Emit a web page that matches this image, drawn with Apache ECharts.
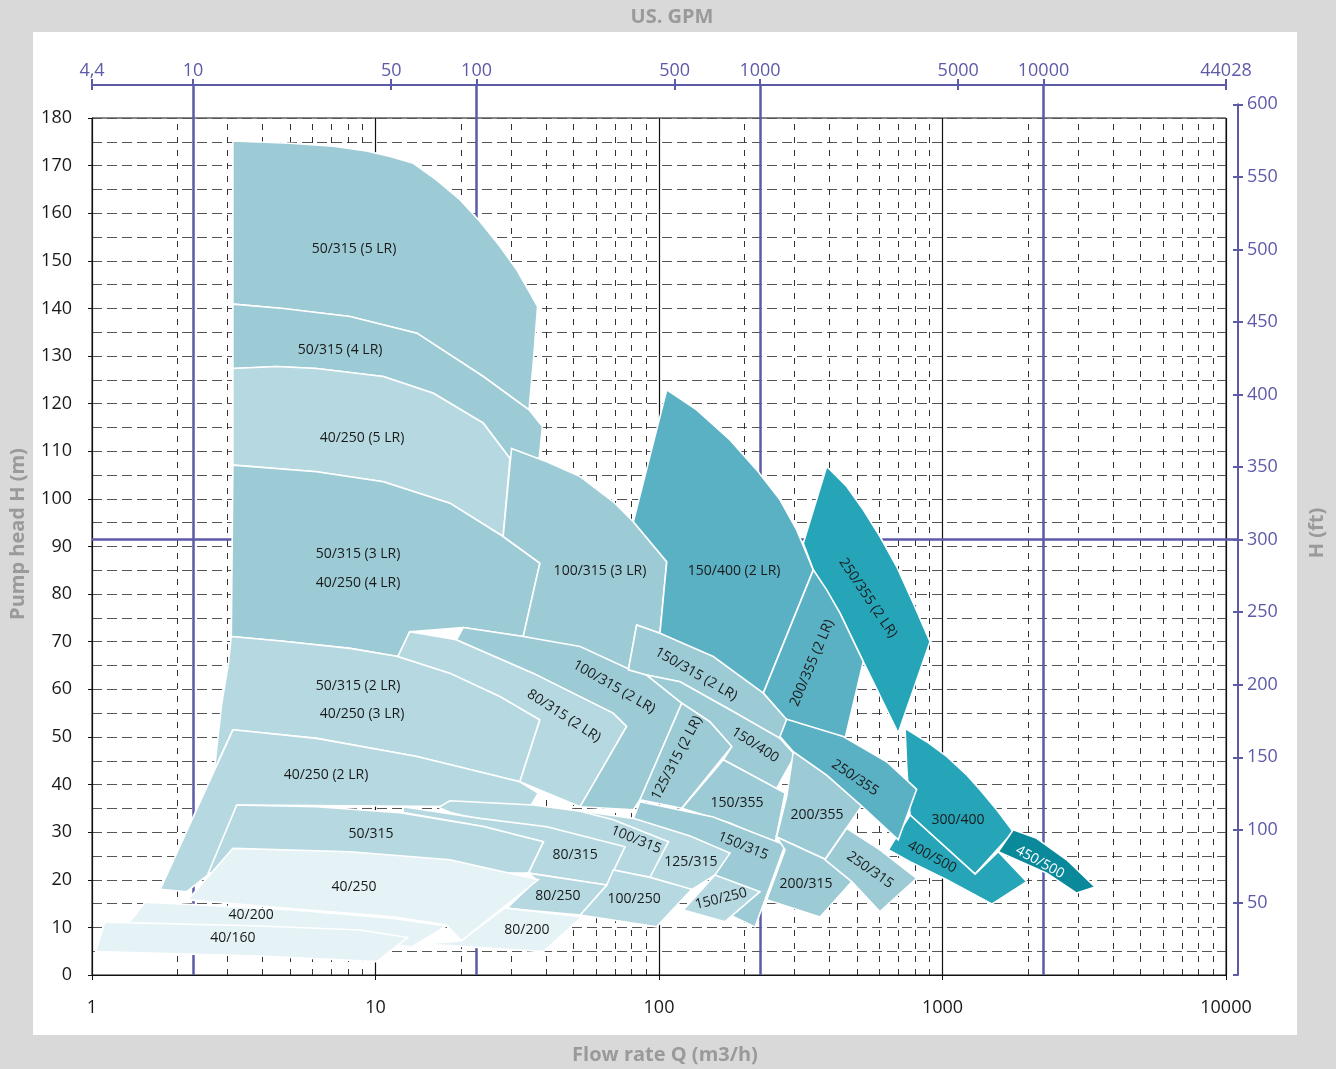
<!DOCTYPE html>
<html><head><meta charset="utf-8">
<script src="https://cdn.jsdelivr.net/npm/echarts@6/dist/echarts.min.js"></script>
<style>
html,body{margin:0;padding:0;background:#d9d9d9;}
#panel{position:absolute;left:33px;top:32px;width:1264px;height:1003px;background:#fff;}
#c{position:absolute;left:0;top:0;width:1336px;height:1069px;}
</style></head><body>
<div id="panel"></div><div id="c"></div>
<script>
// ---------------- data ----------------
const gpmTicks = [4.4, 10, 50, 100, 500, 1000, 5000, 10000, 44028];
const gpmTickText = ['4,4', '10', '50', '100', '500', '1000', '5000', '10000', '44028'];
const gpmMinorTicks = [4.4, 50, 500, 5000, 44028];
const gpmGuideLines = [10, 100, 1000, 10000];
const ftGuideLines = [300];
const minorFlowGrid = [2,3,4,5,6,7,8,9,20,30,40,50,60,70,80,90,200,300,400,500,600,700,800,900,2000,3000,4000,5000,6000,7000,8000,9000];

// region outlines: [Q (m3/h), H (m)]
const P_50_315_5LR = [[3.14,175.2],[5.0,174.7],[7.1,174.1],[9.3,173.1],[11.25,171.9],[13.6,170.5],[16.4,167.0],[19.9,162.8],[23.4,158.2],[27.5,153.0],[31.5,148.1],[35.1,143.2],[37.3,140.4],[36.0,128.5],[34.8,118.7],[24.0,125.7],[14.0,134.8],[8.1,138.3],[4.7,140.0],[3.14,140.9]];
const P_50_315_4LR = [[3.14,140.9],[4.73,140.0],[8.13,138.3],[14.0,134.8],[24.0,125.7],[34.8,118.7],[38.8,115.2],[37.8,108.5],[29.8,108.5],[24.0,115.9],[16.0,122.2],[10.65,125.7],[6.2,127.4],[4.48,127.8],[3.14,127.4]];
const P_40_250_5LR = [[3.14,127.4],[4.48,127.8],[6.2,127.4],[10.65,125.7],[16.0,122.2],[24.0,115.9],[29.8,108.5],[28.2,92.1],[18.3,99.1],[10.65,103.6],[6.2,105.7],[3.14,107.1]];
const P_50_315_3LR = [[3.14,107.1],[6.2,105.7],[10.65,103.6],[18.3,99.1],[28.2,92.1],[38.0,86.5],[33.2,71.1],[20.4,73.0],[13.2,72.1],[12.0,66.9],[8.13,68.6],[4.73,70.1],[3.1,71.1]];
const P_100_315_3LR = [[30.2,110.6],[40.2,107.8],[52.7,104.7],[69.0,99.4],[81.2,95.2],[106.5,86.8],[100.8,71.8],[83.4,73.5],[78.0,64.1],[52.7,68.3],[33.2,71.1],[38.0,86.5],[28.2,92.1]];
const P_150_400_2LR = [[106.5,122.9],[135.8,118.7],[178,112.4],[221.1,106.1],[267.2,99.8],[305.9,93.5],[350.2,85.1],[233.3,59.2],[100.8,71.8],[106.5,86.8],[81.2,95.2]];
const P_250_355_2LR = [[390.5,106.8],[459.3,102.6],[525.5,97.7],[601.9,92.1],[689,85.8],[789,78.1],[903.5,70.0],[698,50.8],[525.5,65.8],[434.9,76.0],[350.2,85.1],[322.8,90.7]];
const P_200_355_2LR = [[350.2,85.1],[390.5,80.9],[434.9,76.0],[525.5,65.8],[453.2,49.7],[282.2,53.6],[233.3,59.2]];
const P_50_315_2LR = [[3.1,71.1],[4.73,70.1],[8.13,68.6],[12.0,66.9],[18.3,63.4],[27.5,58.5],[38.0,53.6],[32.3,40.6],[14.0,45.9],[6.2,49.7],[3.14,51.5],[2.70,43.1],[2.87,57.1],[3.03,65.5]];
const P_40_250_2LR = [[3.14,51.5],[6.2,49.7],[14.0,45.9],[32.3,40.6],[37.5,38.2],[35.1,35.3],[3.24,35.7],[2.61,21.4],[2.16,17.5],[1.74,18.0]];
const P_80_315_2LR = [[13.2,72.1],[19.3,70.4],[36.0,63.4],[69.0,55.0],[76.9,52.2],[52.7,35.35],[32.3,40.6],[38.0,53.6],[27.5,58.5],[18.3,63.4],[12.0,66.9]];
const P_100_315_2LR = [[20.4,73.0],[33.2,71.1],[52.7,69.0],[76.9,64.5],[90.5,63.0],[120.3,57.1],[85.7,36.8],[81.2,34.7],[52.7,35.35],[76.9,52.2],[69.0,55.0],[36.0,63.4],[19.3,70.4]];
const P_150_315_2LR = [[83.4,73.5],[100.8,71.8],[155.4,66.9],[233.3,59.2],[282.2,53.6],[267.2,49.7],[178.0,55.7],[118.6,61.6],[90.5,63.0],[78.0,64.1]];
const P_150_400 = [[90.5,63.0],[118.6,61.6],[178.0,55.7],[267.2,49.7],[302,46.2],[260,39.2],[168.6,45.2],[180.6,48.0],[151,53.2],[120.3,57.1]];
const P_125_315_2LR = [[120.3,57.1],[151,53.2],[180.6,48.0],[120.3,35.0],[85.7,36.8]];
const P_150_355 = [[168.6,45.2],[278.4,38.2],[256.6,27.7],[178,31.9],[120.3,35.0]];
const P_200_355 = [[297.7,46.9],[390.5,42.0],[518.8,35.5],[385.3,24.3],[260,29.0],[282.2,37.5]];
const P_300_400 = [[737.8,51.8],[879.6,49.0],[1035,45.9],[1217.6,42.0],[1356,38.9],[1553,34.7],[1777,30.1],[1303,21.2],[768,33.6],[747.8,43.8]];
const P_400_500 = [[644,26.3],[768,33.6],[1303,21.2],[1573,25.9],[1982,19.6],[1492,14.9],[1035,20.0],[768,23.8]];
const P_450_500 = [[1777,30.5],[2149,28.7],[2742,24.2],[3452,18.5],[2974,17.2],[2332,21.4],[1573,25.9]];
const P_250_355 = [[282.2,53.7],[446.6,50.1],[635.6,44.8],[810.8,39.0],[698,28.4],[518.8,35.5],[390.5,42.0],[297.7,46.9],[267.2,50.1]];
const P_150_315 = [[85.7,36.4],[155.4,33.2],[278.4,27.3],[218.2,10.1],[178.0,12.6],[157.6,21.0],[81.2,32.9]];
const P_125_315 = [[44.8,35.1],[81.2,32.9],[128.7,29.2],[178.0,25.6],[157.6,21.0],[130.5,17.9],[91.7,20.6],[107.9,28.0]];
const P_100_315 = [[16.7,35.2],[18.3,36.6],[36.0,35.7],[52.7,34.4],[69.0,32.6],[107.9,28.0],[93.0,20.5],[69.0,22.05],[44.8,28.4],[18.3,34.2]];
const P_80_315 = [[12.5,35.35],[23.4,32.9],[40.2,31.15],[75.9,26.95],[65.4,18.9],[34.6,21.4],[39.1,28.0],[24.0,31.2],[12.5,34.1]];
const P_50_315 = [[3.24,35.7],[6.2,35.35],[12.2,34.1],[24.0,31.2],[39.1,28.0],[34.6,21.4],[2.57,21.4]];
const P_200_315 = [[260,29.0],[385.3,24.3],[478.5,19.6],[369.8,12.2],[239.8,15.8],[278.4,26.3]];
const P_250_315 = [[459.3,30.8],[601.9,26.3],[810.8,20.3],[601.9,13.3],[478.5,19.6],[385.3,24.2]];
const P_100_250 = [[69.0,22.05],[93.0,20.5],[130.5,18.0],[98.1,10.1],[52.7,12.6],[65.4,18.9]];
const P_80_250 = [[34.6,21.4],[65.4,18.9],[52.7,12.6],[29.0,14.0],[37.0,20.0]];
const P_150_250 = [[157.6,21.0],[227.1,17.5],[171,11.2],[121.8,13.65]];
const P_80_200 = [[28.6,14.1],[53.5,12.2],[39.1,4.9],[14.7,6.5],[20.1,7.2]];
const P_40_250 = [[3.14,26.6],[8.13,25.9],[18.3,24.2],[37.5,20.0],[20.1,7.2],[17.8,10.5],[11.55,12.2],[5.13,13.9],[2.18,15.8]];
const P_40_200 = [[1.54,15.3],[5.13,13.65],[11.55,11.9],[17.8,10.3],[13.4,5.9],[5.42,8.4],[1.33,10.5]];
const P_40_160 = [[1.11,11.1],[3.91,10.3],[8.82,9.45],[13.0,7.9],[10.1,2.8],[3.91,4.0],[1.03,4.9]];

const regionPolys = [P_50_315_5LR, P_50_315_4LR, P_40_250_5LR, P_50_315_3LR, P_100_315_3LR, P_150_400_2LR,
  P_250_355_2LR, P_200_355_2LR, P_50_315_2LR, P_40_250_2LR, P_80_315_2LR, P_100_315_2LR, P_150_315_2LR,
  P_150_400, P_125_315_2LR, P_150_355, P_200_355, P_300_400, P_400_500, P_450_500, P_250_355,
  P_150_315, P_125_315, P_100_315, P_80_315, P_50_315, P_200_315, P_250_315, P_100_250, P_80_250,
  P_150_250, P_80_200, P_40_250, P_40_200, P_40_160];

const labelTexts = ['50/315 (5 LR)','50/315 (4 LR)','40/250 (5 LR)','50/315 (3 LR)','40/250 (4 LR)','100/315 (3 LR)',
  '150/400 (2 LR)','250/355 (2 LR)','200/355 (2 LR)','50/315 (2 LR)','40/250 (3 LR)','80/315 (2 LR)','100/315 (2 LR)',
  '150/315 (2 LR)','125/315 (2 LR)','150/400','150/355','250/355','200/355','300/400','400/500','450/500','250/315',
  '200/315','150/315','125/315','100/315','80/315','50/315','40/250 (2 LR)','40/250','80/250','100/250','150/250',
  '80/200','40/200','40/160'];
const labelPos = [[8.40,152.5],[7.50,131.3],[8.96,112.8],[8.68,88.4],[8.68,82.3],[61.9,84.9],
  [184,84.9],[546,79.2],[346.7,65.5],[8.68,60.7],[8.96,54.8],[46.2,54.4],[69.4,60.5],
  [135.1,63.2],[115.7,45.6],[218.2,48.3],[188.4,36.1],[491.4,41.4],[360.8,33.6],[1134,32.6],[918.8,24.8],[2208,23.7],[555.2,22.05],
  [330,19.1],[197.9,27.1],[129.6,23.7],[83.0,28.4],[50.6,25.2],[9.64,29.6],[6.69,42.0],[8.40,18.5],[44.0,16.6],[81.7,16.0],[165.4,16.0],
  [34.2,9.45],[3.64,12.6],[3.14,7.8]];

// ---------------- styles ----------------
const PURPLE = '#5d5aa8';
const FONT = '"Open Sans", "DejaVu Sans", sans-serif';
const FILL = {A:'#e5f2f6', B:'#b6d9e1', C:'#9ccbd6', D:'#5bb1c4', E:'#26a5b9', F:'#0a899b'};
const regionFill = ['C','C','B','C','C','D','E','D','B','B','B','C','C','C','C','C','C','E','E','F','D',
  'C','B','B','B','B','C','C','B','B','B','A','A','A','A'];
const labelRot = {'250/355 (2 LR)':-56,'200/355 (2 LR)':67,'80/315 (2 LR)':-33,'100/315 (2 LR)':-30,
  '150/315 (2 LR)':-30,'125/315 (2 LR)':62,'150/400':-33,'250/355':-34,'400/500':-28,'450/500':-29,
  '250/315':-35,'150/315':-22,'100/315':-22,'150/250':14};

const lg = v => Math.log10(v);
const chart = echarts.init(document.getElementById('c'), null, {renderer:'canvas'});

const option = {
  backgroundColor: 'transparent',
  animation: false,
  grid: [
    {left:92, top:118, width:1134, height:857, show:true, borderColor:'#111', borderWidth:1, backgroundColor:'transparent'},
    {left:92, top:85, width:1134, height:890},
    {left:92, top:104.3, width:1146, height:870.7}
  ],
  xAxis: [
    {gridIndex:0, type:'log', logBase:10, min:1, max:10000,
      axisLine:{onZero:false, lineStyle:{color:'#111', width:1}},
      axisTick:{length:5, lineStyle:{color:'#111'}},
      axisLabel:{fontSize:18, color:'#1a1a1a', margin:24, fontFamily:FONT, formatter:v=>String(Math.round(v))},
      splitLine:{show:true, lineStyle:{color:'#111', width:1.2}}},
    {gridIndex:1, type:'value', position:'top', min:lg(4.4), max:lg(44028),
      axisLine:{show:true, onZero:false, lineStyle:{color:PURPLE, width:2}},
      axisTick:{show:true, customValues:gpmTicks.map(lg), length:6, lineStyle:{color:PURPLE, width:2}},
      axisLabel:{show:true, customValues:gpmTicks.map(lg), color:PURPLE, fontSize:18, fontFamily:FONT, margin:5,
        formatter:v=>{let b=0,d=1e9;gpmTicks.forEach((g,i)=>{const e=Math.abs(lg(g)-v);if(e<d){d=e;b=i;}});return gpmTickText[b];}},
      splitLine:{show:false}},
    {gridIndex:1, type:'value', position:'top', min:lg(4.4), max:lg(44028),
      axisLine:{show:false, onZero:false},
      axisTick:{show:true, inside:true, customValues:gpmMinorTicks.map(lg), length:5, lineStyle:{color:PURPLE, width:2}},
      axisLabel:{show:false}, splitLine:{show:false}},
    {gridIndex:2, type:'value', min:0, max:1, show:false}
  ],
  yAxis: [
    {gridIndex:0, type:'value', min:0, max:180, interval:10,
      axisLine:{show:true, onZero:false, lineStyle:{color:'#111', width:1}},
      axisTick:{show:true, length:4, lineStyle:{color:'#111'}},
      axisLabel:{fontSize:18, color:'#1a1a1a', margin:20, fontFamily:FONT},
      splitLine:{show:true, lineStyle:{type:[10,5], color:'#555', width:1}},
      minorTick:{show:false, splitNumber:2},
      minorSplitLine:{show:true, lineStyle:{type:[10,5], color:'#555', width:1}}},
    {gridIndex:1, type:'value', min:0, max:1, show:false},
    {gridIndex:2, type:'value', position:'right', min:0, max:600, interval:50,
      axisLine:{show:true, onZero:false, lineStyle:{color:PURPLE, width:2}},
      axisTick:{show:true, length:5, lineStyle:{color:PURPLE, width:2}},
      axisLabel:{color:PURPLE, fontSize:18, margin:9, fontFamily:FONT, showMinLabel:false},
      splitLine:{show:false}},
    {gridIndex:2, type:'value', position:'right', min:0, max:600, interval:50,
      axisLine:{show:false, onZero:false},
      axisTick:{show:true, inside:true, length:5, lineStyle:{color:PURPLE, width:2}},
      axisLabel:{show:false}, splitLine:{show:false}}
  ],
  series: [
    {type:'line', xAxisIndex:0, yAxisIndex:0, data:[], z:1, silent:true,
      markLine:{silent:true, z:1, symbol:'none', label:{show:false}, animation:false,
        lineStyle:{type:[6,7], color:'#333', width:1},
        data:minorFlowGrid.map(v=>({xAxis:v}))}},
    {type:'line', xAxisIndex:1, yAxisIndex:1, data:[], z:2, silent:true,
      markLine:{silent:true, z:2, symbol:'none', label:{show:false}, animation:false,
        lineStyle:{type:'solid', color:PURPLE, width:2.5},
        data:gpmGuideLines.map(v=>({xAxis:lg(v)}))}},
    {type:'line', xAxisIndex:3, yAxisIndex:2, data:[], z:2, silent:true,
      markLine:{silent:true, z:2, symbol:'none', label:{show:false}, animation:false,
        lineStyle:{type:'solid', color:PURPLE, width:2.5},
        data:ftGuideLines.map(v=>({yAxis:v}))}},
    {type:'custom', xAxisIndex:0, yAxisIndex:0, zlevel:1, z:3, silent:true,
      data: regionPolys.map((p,i)=>[p[0][0], p[0][1], i]),
      encode:{x:0, y:1},
      renderItem:(params, api)=>{
        const i = api.value(2);
        const pts = regionPolys[i].map(pt=>api.coord(pt));
        return {type:'polygon', shape:{points:pts},
          style:{fill:FILL[regionFill[i]], stroke:'#ffffff', lineWidth:1.6, lineJoin:'miter'}};
      }},
    {type:'custom', xAxisIndex:0, yAxisIndex:0, zlevel:1, z:4, silent:true,
      data: labelPos.map((p,i)=>[p[0], p[1], i]),
      encode:{x:0, y:1},
      renderItem:(params, api)=>{
        const i = api.value(2);
        const c = api.coord([api.value(0), api.value(1)]);
        const t = labelTexts[i];
        return {type:'text', x:c[0], y:c[1], rotation:(labelRot[t]||0)*Math.PI/180,
          style:{text:t, fill:(t==='450/500')?'#ffffff':'#1a1a1a', font:'14px '+FONT, align:'center', verticalAlign:'middle'}};
      }}
  ],
  graphic: [
    {type:'text', x:672, y:17, style:{text:'US. GPM', fill:'#9a9a9a', font:'bold 20px '+FONT, align:'center', verticalAlign:'middle'}},
    {type:'text', x:665, y:1055, style:{text:'Flow rate Q (m3/h)', fill:'#9a9a9a', font:'bold 20px '+FONT, align:'center', verticalAlign:'middle'}},
    {type:'text', x:18, y:534, rotation:Math.PI/2, style:{text:'Pump head H (m)', fill:'#9a9a9a', font:'bold 20px '+FONT, align:'center', verticalAlign:'middle'}},
    {type:'text', x:1317, y:533, rotation:Math.PI/2, style:{text:'H (ft)', fill:'#9a9a9a', font:'bold 20px '+FONT, align:'center', verticalAlign:'middle'}}
  ]
};
chart.setOption(option);
</script>
</body></html>
